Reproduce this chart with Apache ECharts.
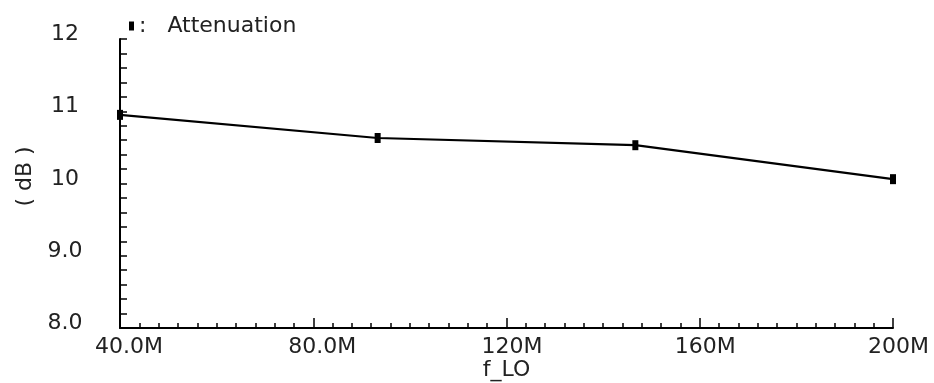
<!DOCTYPE html>
<html>
<head>
<meta charset="utf-8">
<script src="https://cdn.jsdelivr.net/npm/echarts@6/dist/echarts.min.js"></script>
<style>
  html, body { margin: 0; padding: 0; background: #fff; }
  #chart { width: 934px; height: 383px; }
</style>
</head>
<body>
<div id="chart"></div>
<script>
// 数据
const freqs = [40e6, 93.33e6, 146.67e6, 200e6]
const attenuation = [10.95, 10.63, 10.53, 10.06]

const xTickValues = [40e6, 80e6, 120e6, 160e6, 200e6]
const xTickLabels = ['40.0M', '80.0M', '120M', '160M', '200M']
const yTickValues = [8, 9, 10, 11, 12]
const yTickLabels = ['8.0', '9.0', '10', '11', '12']

const font = 'DejaVu Sans'

const myEchart = echarts.init(document.querySelector('#chart'))
myEchart.setOption({
  animation: false,
  grid: {
    left: 120,
    right: 41,
    top: 39,
    bottom: 55,
    outerBoundsMode: 'none',
  },
  legend: {
    left: 124,
    top: 10,
    icon: 'rect',
    itemWidth: 5,
    itemHeight: 9,
    formatter: (name) => ':   ' + name,
    textStyle: {
      fontFamily: font,
      fontSize: 22,
      color: '#222',
    },
  },
  xAxis: {
    type: 'value',
    min: 40e6,
    max: 200e6,
    interval: 40e6,
    name: 'f_LO',
    nameLocation: 'middle',
    nameGap: 31,
    nameMoveOverlap: false,
    nameTextStyle: {
      fontFamily: font,
      fontSize: 22,
      color: '#222',
    },
    axisLine: { lineStyle: { color: '#000', width: 2 } },
    axisTick: { inside: true, length: 10, lineStyle: { color: '#000', width: 1.5 } },
    minorTick: { show: true, splitNumber: 10, length: 5, lineStyle: { color: '#000', width: 1.5 } },
    splitLine: { show: false },
    axisLabel: {
      margin: 8,
      align: 'left',
      padding: [0, 0, 0, -25],
      fontFamily: font,
      fontSize: 22,
      color: '#222',
      formatter: (v) => xTickLabels[xTickValues.indexOf(v)],
    },
  },
  yAxis: {
    type: 'value',
    min: 8,
    max: 12,
    interval: 1,
    name: '( dB )',
    nameLocation: 'middle',
    nameGap: 84,
    nameRotate: 90,
    nameMoveOverlap: false,
    nameTextStyle: {
      fontFamily: font,
      fontSize: 22,
      color: '#222',
      padding: [0, 0, 0, 14],
    },
    axisLine: { show: true, lineStyle: { color: '#000', width: 2 } },
    axisTick: { show: true, inside: true, length: 7, lineStyle: { color: '#000', width: 1.5 } },
    minorTick: { show: true, splitNumber: 5, length: 7, lineStyle: { color: '#000', width: 1.5 } },
    splitLine: { show: false },
    axisLabel: {
      margin: 55,
      align: 'center',
      verticalAlign: 'bottom',
      lineHeight: 9,
      fontFamily: font,
      fontSize: 22,
      color: '#222',
      formatter: (v) => yTickLabels[yTickValues.indexOf(v)],
    },
  },
  series: [
    {
      name: 'Attenuation',
      type: 'line',
      data: freqs.map((f, i) => [f, attenuation[i]]),
      symbol: 'rect',
      symbolSize: [6, 10],
      color: '#000',
      itemStyle: { color: '#000' },
      lineStyle: { color: '#000', width: 2.2 },
    },
  ],
})
</script>
</body>
</html>
